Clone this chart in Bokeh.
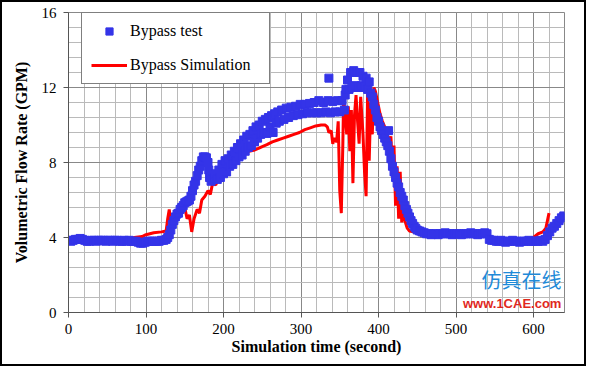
from bokeh.plotting import figure
from bokeh.models import Range1d, FixedTicker, Legend, LegendItem, Label
from bokeh.embed import file_html
from bokeh.resources import INLINE

# ---------------- data ----------------
x_ticks = [0, 100, 200, 300, 400, 500, 600]
y_ticks = [0, 4, 8, 12, 16]

# Bypass simulation (red line)
sim_time = [0, 20, 40, 60, 75, 85, 95, 100, 110, 120, 126, 128, 130, 132, 136, 138, 140,
            145, 150, 153, 156, 159, 162, 166, 169, 172, 176, 180, 183, 186, 190, 193, 197,
            201, 205, 210, 214, 220, 227, 233, 239, 245, 250, 256, 263, 270, 277, 284, 291,
            298, 305, 312, 319, 326, 331, 334, 336, 339, 341, 343, 346, 348, 350, 352, 354,
            355, 357, 359, 361, 363, 365, 367, 369, 371, 373, 375, 377, 380, 382, 384, 386,
            388, 390, 392, 394, 396, 399, 402, 405, 408, 411, 414, 416, 418, 420, 422, 424,
            426, 428, 430, 432, 434, 437, 440, 445, 450, 460, 480, 500, 520, 540, 545, 560,
            580, 595, 600, 606, 612, 616, 620]
sim_flow = [3.85, 3.85, 3.85, 3.85, 3.9, 4.0, 4.05, 4.15, 4.25, 4.3, 4.35, 5.0, 5.5, 4.7, 4.9, 5.5, 5.0,
            5.3, 5.6, 5.0, 5.2, 4.3, 5.0, 5.5, 5.3, 6.0, 6.2, 6.5, 6.3, 6.9, 6.8, 7.1, 7.2,
            7.4, 7.6, 7.9, 8.05, 8.3, 8.55, 8.6, 8.65, 8.75, 8.85, 8.95, 9.1, 9.2, 9.3, 9.4, 9.5,
            9.6, 9.75, 9.85, 9.95, 10.0, 10.0, 9.9, 9.6, 9.7, 9.0, 9.3, 9.1, 10.2, 6.5, 5.3, 9.0,
            11.5, 10.5, 9.5, 11.0, 8.6, 10.8, 6.9, 10.5, 11.6, 10.2, 9.0, 11.5, 9.5, 7.5, 6.2, 11.8,
            8.1, 11.2, 9.5, 12.0, 11.8, 11.2, 10.6, 10.2, 9.9, 9.6, 8.9, 9.4, 7.5, 8.9, 5.7, 7.8,
            5.0, 7.5, 4.8, 6.2, 4.9, 4.5, 4.35, 4.3, 4.25, 4.2, 4.2, 4.2, 4.2, 4.2, 3.95, 3.9,
            3.9, 3.9, 4.0, 4.2, 4.3, 4.5, 5.3]

# Bypass test (blue squares)
test_time = [0, 3, 6, 9, 12, 15, 18, 21, 24, 27, 30, 33, 36, 39, 42, 45, 48, 51, 54, 57,
             60, 63, 66, 69, 72, 75, 78, 81, 84, 87, 90, 93, 96, 99, 102, 105, 108, 111, 114, 117,
             120, 123, 126, 128, 130, 132, 134, 136, 138, 140, 142, 144, 146, 148, 150, 152, 154, 156,
             158, 160, 162, 164, 166, 168, 170, 172, 174, 176, 178, 180, 181, 182, 184, 186, 188,
             190, 192, 194, 196, 198, 200, 202, 204, 206, 208, 210, 212, 214, 216, 218, 220, 222,
             224, 226, 228, 230, 232, 234, 236, 238, 240, 242, 244, 246, 248, 250, 252, 254, 256,
             258, 260, 262, 264, 266, 268, 270, 272, 275, 278, 281, 284, 287, 290, 293, 296, 299,
             302, 305, 308, 311, 314, 317, 320, 323, 326, 329, 332, 335, 336, 338, 341, 344, 347,
             350, 353, 356, 357, 358, 360, 362, 364, 366, 368, 370, 372, 374, 376, 378, 380, 382,
             384, 386, 388, 390, 392, 394, 396, 398, 400, 402, 404, 406, 408, 410, 412, 413, 414,
             416, 418, 420, 422, 424, 426, 428, 430, 432, 434, 436, 438, 440, 442, 444, 446, 448,
             450, 453, 456, 459, 462, 465, 468, 471, 474, 477, 480, 483, 486, 489, 492, 495, 498,
             501, 504, 507, 510, 513, 516, 519, 522, 525, 528, 531, 534, 537, 540, 543, 546, 549,
             552, 555, 558, 561, 564, 567, 570, 573, 576, 579, 582, 585, 588, 591, 594, 597, 600,
             603, 606, 609, 612, 615, 618, 621, 624, 627, 630, 633, 636, 639]
test_flow = [3.85, 3.8, 3.85, 3.9, 3.9, 3.95, 3.9, 3.85, 3.8, 3.8, 3.85, 3.85, 3.8, 3.85, 3.85, 3.85, 3.8, 3.85, 3.85, 3.8,
             3.85, 3.85, 3.8, 3.8, 3.85, 3.8, 3.85, 3.8, 3.8, 3.8, 3.75, 3.7, 3.7, 3.75, 3.8, 3.8, 3.8, 3.8, 3.8, 3.8,
             3.85, 3.85, 3.9, 4.0, 4.15, 4.4, 4.7, 4.9, 5.1, 5.25, 5.3, 5.5, 5.6, 5.7, 5.85, 5.9, 5.95, 6.0,
             6.2, 6.5, 6.8, 7.0, 7.3, 7.6, 7.8, 8.1, 8.3, 8.3, 8.25, 8.0, 7.6, 7.2, 7.0, 7.1, 7.2,
             7.4, 7.1, 7.6, 7.2, 7.9, 7.4, 8.1, 7.5, 8.2, 7.8, 8.4, 7.9, 8.6, 8.1, 8.8, 8.3, 9.0,
             8.4, 9.2, 8.6, 9.4, 8.8, 9.5, 8.9, 9.7, 9.1, 9.9, 9.3, 10.0, 9.5, 10.2, 9.6, 10.3, 9.55,
             10.4, 9.9, 10.5, 9.6, 10.6, 10.1, 10.7, 10.2, 10.8, 10.3, 10.9, 10.4, 10.95, 10.5, 11.0, 10.55, 11.1,
             10.6, 11.1, 10.65, 11.15, 10.65, 11.2, 10.65, 11.3, 10.65, 11.2, 10.7, 11.3, 12.5, 10.65, 11.25, 10.7, 11.3,
             10.7, 11.3, 10.8, 11.6, 11.9, 12.4, 11.9, 12.8, 12.0, 12.9, 12.1, 12.8, 12.0, 12.8, 12.1, 12.6, 12.0,
             12.5, 11.9, 12.3, 11.7, 11.5, 11.1, 10.8, 10.4, 10.2, 9.9, 9.7, 9.5, 9.3, 9.1, 8.9, 9.7, 8.6,
             8.2, 7.8, 7.5, 7.2, 6.9, 6.7, 6.4, 6.2, 6.0, 5.7, 5.5, 5.3, 5.1, 4.9, 4.75, 4.6, 4.5,
             4.4, 4.35, 4.3, 4.25, 4.2, 4.2, 4.15, 4.2, 4.2, 4.15, 4.2, 4.2, 4.25, 4.2, 4.2, 4.15, 4.2,
             4.2, 4.2, 4.15, 4.2, 4.2, 4.2, 4.25, 4.2, 4.2, 4.15, 4.2, 4.2, 4.25, 4.2, 3.9, 3.85, 3.85,
             3.8, 3.8, 3.85, 3.8, 3.75, 3.8, 3.8, 3.85, 3.8, 3.8, 3.75, 3.8, 3.8, 3.8, 3.85, 3.8, 3.8,
             3.8, 3.8, 3.85, 3.8, 3.9, 4.1, 4.3, 4.5, 4.6, 4.75, 4.9, 5.05, 5.15]

BLUE = "#3434e8"
RED = "#ff0000"
SERIF = "Liberation Serif"

p = figure(width=586, height=366, output_backend="svg", toolbar_location=None,
           x_range=Range1d(0, 640), y_range=Range1d(0, 16),
           min_border_left=66, min_border_right=24, min_border_top=10, min_border_bottom=56,
           background_fill_color="white", border_fill_color="white")
p.styles = {"border": "2px solid black"}

sim = p.line(sim_time, sim_flow, line_color=RED, line_width=3)
test = p.scatter(test_time, test_flow, marker="square", size=8,
                 fill_color=BLUE, line_color=BLUE)

xt = FixedTicker(ticks=x_ticks, minor_ticks=list(range(0, 641, 20)))
yt = FixedTicker(ticks=y_ticks, minor_ticks=[round(i * 0.8, 1) for i in range(21)])
p.xaxis.ticker = xt
p.yaxis.ticker = yt
p.xgrid.ticker = xt
p.ygrid.ticker = yt

for g in (p.xgrid, p.ygrid):
    g.grid_line_color = "#888888"
    g.grid_line_width = 1
    g.minor_grid_line_color = "#bababa"
    g.minor_grid_line_width = 1

p.outline_line_color = "#888888"

for ax in (p.xaxis, p.yaxis):
    ax.axis_line_color = "#555555"
    ax.major_tick_line_color = "#555555"
    ax.major_tick_out = 5
    ax.major_tick_in = 0
    ax.minor_tick_out = 0
    ax.minor_tick_in = 0
    ax.major_label_text_font = SERIF
    ax.major_label_text_font_size = "15px"
    ax.major_label_text_color = "black"
    ax.axis_label_text_font = SERIF
    ax.axis_label_text_font_size = "16px"
    ax.axis_label_text_font_style = "bold"
    ax.axis_label_text_color = "black"

p.xaxis.axis_label = "Simulation time (second)"
p.yaxis.axis_label = "Volumetric Flow Rate (GPM)"
p.xaxis.major_label_standoff = 6
p.xaxis.axis_label_standoff = 1
p.yaxis.major_label_standoff = 7
p.yaxis.axis_label_standoff = 9

legend = Legend(items=[LegendItem(label="Bypass test", renderers=[test]),
                       LegendItem(label="Bypass Simulation", renderers=[sim])],
                location=(13, 228))
legend.label_text_font = SERIF
legend.label_text_font_size = "16px"
legend.label_text_color = "black"
legend.border_line_color = "black"
legend.border_line_width = 1
legend.background_fill_color = "white"
legend.background_fill_alpha = 1
legend.padding = 9
legend.spacing = 16
legend.glyph_width = 36
legend.glyph_height = 18
legend.label_height = 18
legend.label_standoff = 3
legend.label_width = 130
legend.margin = 0
p.add_layout(legend)

# site watermark (kept inside the frame so it is not clipped)
p.add_layout(Label(x=636, y=1.0, text="仿真在线", text_align="right", text_baseline="bottom",
                   text_font="Noto Sans CJK SC", text_font_size="20px",
                   text_color="#1f8ad8"))
p.add_layout(Label(x=636, y=0.1, text="www.1CAE.com", text_align="right", text_baseline="bottom",
                   text_font="Liberation Sans", text_font_size="13px",
                   text_font_style="bold", text_color="#e0281e"))

open("out.html", "w").write(file_html(p, INLINE))
